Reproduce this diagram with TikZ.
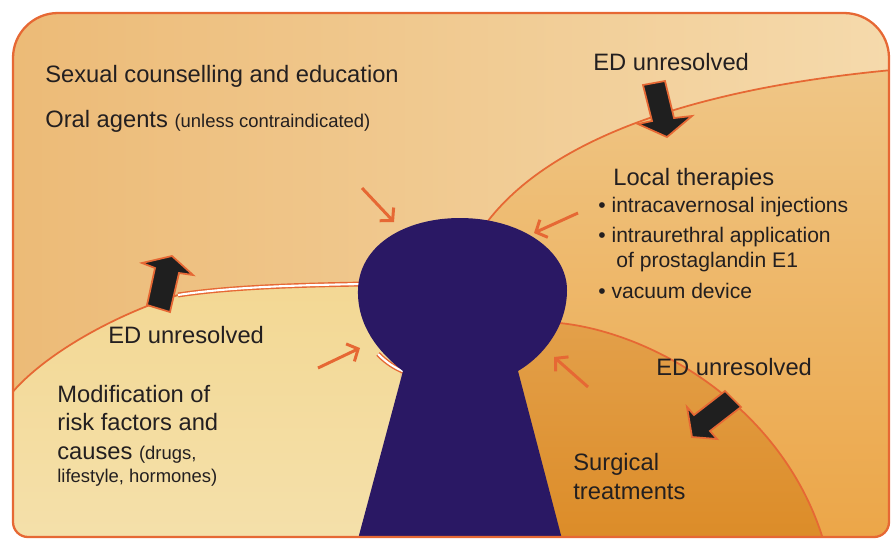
\documentclass[tikz,border=0pt]{standalone}
\usepackage{fontspec}
\setmainfont{Liberation Sans}
\usetikzlibrary{arrows.meta}

\definecolor{bgleft}{RGB}{236,186,118}
\definecolor{bgright}{RGB}{245,218,172}
\definecolor{localtop}{RGB}{239,198,134}
\definecolor{localbot}{RGB}{236,166,72}
\definecolor{surgtop}{RGB}{227,160,74}
\definecolor{surgbot}{RGB}{220,140,40}
\definecolor{modtop}{RGB}{243,216,148}
\definecolor{modbot}{RGB}{244,224,170}
\definecolor{keyblue}{RGB}{42,24,100}
\definecolor{edgeorange}{RGB}{230,104,52}
\definecolor{txtgray}{RGB}{35,31,32}

\newcommand\aside[1]{{\fontsize{10.5}{12}\selectfont #1}}

\tikzset{
  lbl/.style={anchor=base west, inner sep=0pt, text=txtgray, font=\fontsize{13.5}{16}\selectfont},
  item/.style={lbl, font=\fontsize{12}{14}\selectfont},
  border/.style={draw=edgeorange, line width=1pt},
  hint/.style={draw=edgeorange, line width=1.7pt, -{Straight Barb[length=5pt,width=11pt]}},
  bigarrow/.style={fill=black!88, draw=edgeorange, line width=1pt, line join=miter}
}

\begin{document}
\begin{tikzpicture}[x=0.02cm, y=-0.02cm]
\useasboundingbox (0,0) rectangle (892,539);

% Zones
\begin{scope}
\clip (13,300) [rounded corners=0.9cm] -- (13,13) -- (889,13) -- (889,300) [rounded corners=0.3cm] -- (889,537) -- (13,537) -- cycle;
\shade[left color=bgleft, right color=bgright] (0,0) rectangle (892,539);
\shade[top color=localtop, bottom color=localbot] (480,232) .. controls (538,145) and (680,90) .. (892,70) -- (892,539) -- (480,539) -- cycle;
\shade[top color=surgtop, bottom color=surgbot] (545,322) .. controls (640,325) and (780,400) .. (823,539) -- (500,539) -- (500,322) -- cycle;
\shade[top color=modtop, bottom color=modbot] (5,402) .. controls (30,365) and (100,320) .. (178,295) .. controls (230,287) and (300,285) .. (365,284) -- (400,284) -- (400,539) -- (0,539) -- cycle;

% Limites
\draw[border] (480,232) .. controls (538,145) and (680,90) .. (892,70);
\draw[border] (545,322) .. controls (640,325) and (780,400) .. (823,539);
\draw[border] (5,402) .. controls (30,365) and (100,320) .. (178,295);
\draw[edgeorange, line width=0.8pt, double=white, double distance=1.2pt] (178,295) .. controls (230,287) and (300,285) .. (365,284);
\draw[edgeorange, line width=0.8pt, double=white, double distance=1.2pt] (378,354) .. controls (387,363) and (395,368) .. (405,372);

% Serrure
\fill[keyblue] (358,539) -- (403,371) .. controls (378,352) and (357,325) .. (358,290) .. controls (359,245) and (405,218) .. (460,218) .. controls (520,218) and (567,250) .. (567,290) .. controls (567,325) and (545,355) .. (518,371) -- (562,539) -- cycle;
\end{scope}

% Cadre
\draw[border, line width=1.3pt] (13,300) [rounded corners=0.9cm] -- (13,13) -- (889,13) -- (889,300) [rounded corners=0.3cm] -- (889,537) -- (13,537) -- cycle;

% Fleches ED unresolved
\filldraw[bigarrow] (147,305) -- (155,268) -- (142,263) -- (172,256) -- (193,275) -- (179,273) -- (170,312) -- cycle;
\filldraw[bigarrow] (643,85) -- (665,81) -- (674,118) -- (692,116) -- (667,137) -- (638,124) -- (652,121) -- cycle;
\filldraw[bigarrow] (725,391) -- (741,407) -- (710,431) -- (717,439) -- (692,437) -- (687,407) -- (694,415) -- cycle;

% Fleches vers la serrure
\draw[hint] (362,188) -- (394,222);
\draw[hint] (578,213) -- (534,233);
\draw[hint] (318,368) -- (360,348);
\draw[hint] (588,387) -- (554,357);

% Textes
\node[lbl] (sexual) at (45,82) {Sexual counselling and education};
\node[lbl] (oral) at (45,127) {Oral agents \aside{(unless contraindicated)}};
\node[lbl] (edtop) at (593,70) {ED unresolved};
\node[lbl] (local) at (613,185) {Local therapies};
\node[item] (injection) at (598,212) {• intracavernosal injections};
\node[item] (urethral) at (598,242) {• intraurethral application};
\node[item] (prosta) at (616,267) {of prostaglandin E1};
\node[item] (vacuum) at (598,298) {• vacuum device};
\node[lbl] (edleft) at (108,343) {ED unresolved};
\node[lbl] (modif) at (57,402) {Modification of};
\node[lbl] (risk) at (57,430) {risk factors and};
\node[lbl] (causes) at (57,459) {causes \aside{(drugs,}};
\node[lbl] (life) at (57,482) {\aside{lifestyle, hormones)}};
\node[lbl] (edright) at (656,375) {ED unresolved};
\node[lbl] (surg) at (573,470) {Surgical};
\node[lbl] (treat) at (573,499) {treatments};

\end{tikzpicture}
\end{document}
